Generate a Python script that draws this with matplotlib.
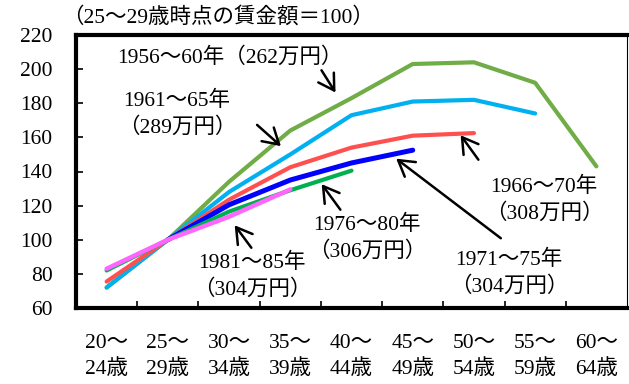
import numpy as np
import matplotlib
matplotlib.use("Agg")
import matplotlib.pyplot as plt

plt.rcParams['font.family'] = ['Liberation Serif', 'Noto Sans CJK JP']

ages = ['20～\n24歳', '25～\n29歳', '30～\n34歳', '35～\n39歳', '40～\n44歳',
        '45～\n49歳', '50～\n54歳', '55～\n59歳', '60～\n64歳']
nan = np.nan
s1956 = [72, 100, 134, 164, 183, 203, 204, 192, 143]
s1961 = [72, 100, 128, 150, 173, 181, 182, 174, nan]
s1966 = [75.5, 100, 123.5, 142.5, 154, 161, 162.5, nan, nan]
s1971 = [nan, 100, 120.5, 135, 145, 152.5, nan, nan, nan]
s1976 = [82, 100, 116.5, 129, 140.5, nan, nan, nan, nan]
s1981 = [83, 100, 113.5, 129.5, nan, nan, nan, nan, nan]

series = [
    (s1956, '#70AD47', 3.0),
    (s1961, '#00B0F0', 3.0),
    (s1966, '#FF5050', 3.0),
    (s1971, '#0000FF', 3.6),
    (s1976, '#00B050', 3.0),
    (s1981, '#FF66FF', 3.2),
]

fig = plt.figure(figsize=(6.29, 3.84), dpi=100)
ax = fig.add_axes([76/629, 1-308/384, 551/629, 273/384])

x = np.arange(len(ages))
for vals, col, lw in series:
    ax.plot(x, vals, color=col, lw=lw, solid_capstyle='round')

ax.set_xlim(-0.5, 8.5)
ax.set_ylim(60, 220)
ax.set_yticks(range(60, 221, 20))
ax.set_xticks(x)
ax.set_xticklabels(ages, fontsize=15.5, linespacing=1.4)
ax.set_xticks(np.arange(0.5, 8, 1), minor=True)
ax.tick_params(axis='x', which='major', length=0, pad=19)
ax.tick_params(axis='x', which='minor', direction='in', length=5, width=1.2)
ax.tick_params(axis='y', direction='in', length=5, width=1.2, labelsize=15.5, pad=17)

for side in ['left', 'bottom', 'top']:
    ax.spines[side].set_linewidth(3)
ax.spines['right'].set_linewidth(0.8)

arrow = dict(arrowstyle='->, head_length=0.5, head_width=0.3', color='black',
             lw=1.8, mutation_scale=22)
fs = 15.5
ax.annotate('', xy=(3.763, 184.9), xytext=(3.486, 200.7), arrowprops=arrow)
ax.annotate('', xy=(2.881, 153.8), xytext=(2.424, 168.4), arrowprops=arrow)
ax.annotate('', xy=(5.756, 162.6), xytext=(6.099, 145.6), arrowprops=arrow)
ax.annotate('', xy=(4.694, 148.5), xytext=(6.475, 99.9), arrowprops=arrow)
ax.annotate('', xy=(3.486, 133.9), xytext=(3.845, 116.3), arrowprops=arrow)
ax.annotate('', xy=(2.065, 109.8), xytext=(2.391, 94.0), arrowprops=arrow)

ls = 1.4
ax.text(0.17, 207.1, '1956～60年（262万円）', fontsize=fs, ha='left', va='center')
ax.text(1.15, 173.7, '1961～65年\n（289万円）', fontsize=fs, ha='center', va='center', linespacing=ls)
ax.text(7.145, 123.3, '1966～70年\n（308万円）', fontsize=fs, ha='center', va='center', linespacing=ls)
ax.text(6.573, 80.2, '1971～75年\n（304万円）', fontsize=fs, ha='center', va='center', linespacing=ls)
ax.text(4.253, 100.7, '1976～80年\n（306万円）', fontsize=fs, ha='center', va='center', linespacing=ls)
ax.text(2.375, 78.5, '1981～85年\n（304万円）', fontsize=fs, ha='center', va='center', linespacing=ls)

fig.text(62/629, 1-17/384, '（25～29歳時点の賃金額＝100）', fontsize=fs, ha='left', va='center')

fig.savefig('out.png', dpi=100)
